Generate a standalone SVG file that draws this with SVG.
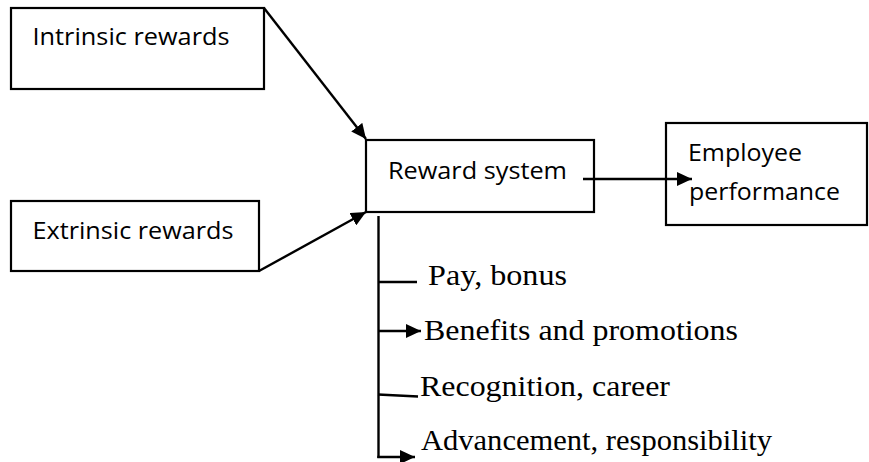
<svg xmlns="http://www.w3.org/2000/svg" width="869" height="462" viewBox="0 0 869 462">
<defs>
<style>
.box{fill:#fff;stroke:#000;stroke-width:2.2}
.ln{fill:none;stroke:#000;stroke-width:2.4}
.sans{font-family:"Open Sans","Liberation Sans",sans-serif;font-size:24px;fill:#000}
.serif{font-family:"Liberation Serif","Times New Roman",serif;font-size:29px;fill:#000}
</style>
<marker id="ah" markerUnits="userSpaceOnUse" markerWidth="16" markerHeight="14" refX="15" refY="7" orient="auto">
<path d="M0,0 L15,7 L0,14 z" fill="#000"/>
</marker>
</defs>
<rect width="869" height="462" fill="#fff"/>
<g id="intrinsic">
<rect class="box" x="11" y="8" width="253" height="81"/>
<text class="sans" x="32.5" y="45" textLength="197" lengthAdjust="spacingAndGlyphs">Intrinsic rewards</text>
</g>
<g id="extrinsic">
<rect class="box" x="11" y="201" width="248" height="70"/>
<text class="sans" x="32.5" y="239" textLength="201" lengthAdjust="spacingAndGlyphs">Extrinsic rewards</text>
</g>
<g id="reward-system">
<rect class="box" x="366" y="140" width="228" height="72"/>
<text class="sans" x="388" y="179" textLength="179" lengthAdjust="spacingAndGlyphs">Reward system</text>
</g>
<g id="employee-performance">
<rect class="box" x="666" y="123" width="201" height="102"/>
<text class="sans" x="688" y="161" textLength="114" lengthAdjust="spacingAndGlyphs">Employee</text>
<text class="sans" x="689" y="200" textLength="151" lengthAdjust="spacingAndGlyphs">performance</text>
</g>
<g id="connectors">
<line class="ln" x1="264" y1="8" x2="366" y2="139" marker-end="url(#ah)"/>
<line class="ln" x1="259" y1="271" x2="366" y2="212" marker-end="url(#ah)"/>
<line class="ln" x1="583" y1="179" x2="692" y2="179" marker-end="url(#ah)"/>
<line class="ln" x1="378.5" y1="216" x2="378.5" y2="458"/>
<line class="ln" x1="378" y1="282" x2="417" y2="282"/>
<line class="ln" x1="378" y1="331" x2="421" y2="331" marker-end="url(#ah)"/>
<line class="ln" x1="378" y1="394.5" x2="418" y2="396.5"/>
<line class="ln" x1="377.3" y1="457" x2="415" y2="457" marker-end="url(#ah)"/>
</g>
<g id="labels">
<text class="serif" x="428" y="285" textLength="139" lengthAdjust="spacingAndGlyphs">Pay, bonus</text>
<text class="serif" x="424" y="340" textLength="314" lengthAdjust="spacingAndGlyphs">Benefits and promotions</text>
<text class="serif" x="420" y="395.5" textLength="250" lengthAdjust="spacingAndGlyphs">Recognition, career</text>
<text class="serif" x="421" y="450" textLength="351" lengthAdjust="spacingAndGlyphs">Advancement, responsibility</text>
</g>
</svg>
